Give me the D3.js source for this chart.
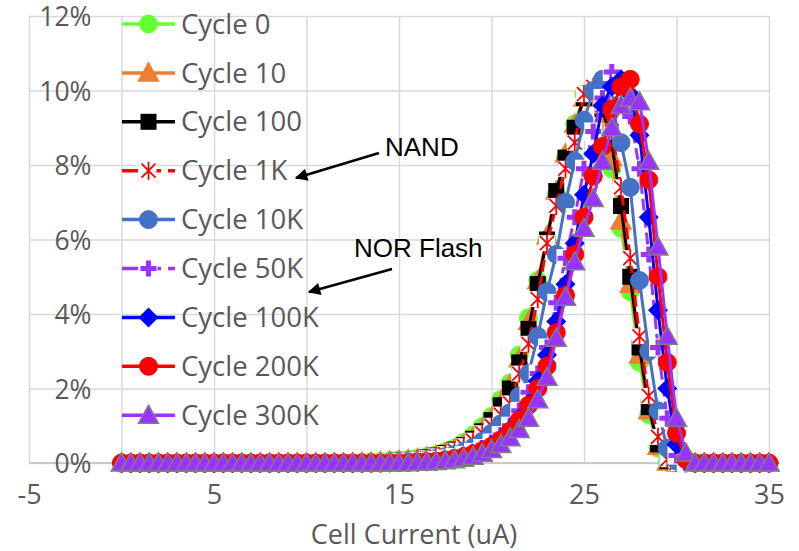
<!DOCTYPE html>
<html><head><meta charset="utf-8">
<script src="https://cdn.jsdelivr.net/npm/d3@7"></script>
<style>
html,body{margin:0;padding:0;background:#fff;}
svg{display:block;}
</style></head>
<body>
<svg id="chart" width="799" height="551"></svg>
<script>
// ---- data ----
const xValues = [0,0.5,1,1.5,2,2.5,3,3.5,4,4.5,5,5.5,6,6.5,7,7.5,8,8.5,9,9.5,10,10.5,11,11.5,12,12.5,
13,13.5,14,14.5,15,15.5,16,16.5,17,17.5,18,18.5,19,19.5,20,20.5,21,21.5,22,22.5,23,23.5,24,24.5,25,25.5,
26,26.5,27,27.5,28,28.5,29,29.5,30,30.5,31,31.5,32,32.5,33,33.5,34,34.5,35];

const seriesNames = ["Cycle 0","Cycle 10","Cycle 100","Cycle 1K","Cycle 10K","Cycle 50K","Cycle 100K","Cycle 200K","Cycle 300K"];

const cycle0 = [0,0,0,0,0,0,0,0,0,0, 0,0,0,0,0,0,0,0,0,0, 0,0,0,0,0,0,
0.02,0.03,0.04,0.06,0.08,0.10,0.13,0.17,0.22,0.30,0.40,0.55,0.75,0.98,1.25,1.7,2.15,2.9,3.9,4.9,6.0,7.2,8.2,9.1,9.9,9.8,9.0,7.9,6.3,4.6,2.7,1.3,0.4,0.04,
0,0,0,0,0,0,0,0,0,0,0];
const cycle10 = [0,0,0,0,0,0,0,0,0,0, 0,0,0,0,0,0,0,0,0,0, 0,0,0,0,0,0,
0.01,0.02,0.03,0.05,0.07,0.09,0.12,0.16,0.21,0.28,0.37,0.5,0.68,0.92,1.2,1.6,2.1,2.8,3.8,4.9,6.1,7.3,8.3,9.1,9.8,9.9,9.2,8.2,6.5,4.8,2.9,1.4,0.45,0.03,
0,0,0,0,0,0,0,0,0,0,0];
const cycle100 = [0,0,0,0,0,0,0,0,0,0, 0,0,0,0,0,0,0,0,0,0, 0,0,0,0,0,0,
0.01,0.02,0.03,0.04,0.06,0.08,0.11,0.15,0.2,0.27,0.36,0.48,0.65,0.85,1.15,1.55,2.0,2.7,3.6,4.8,6.0,7.3,8.2,9.0,9.8,10.0,9.5,8.6,6.9,5.0,3.1,1.5,0.5,0.05,
0,0,0,0,0,0,0,0,0,0,0];
const cycle1K = [0,0,0,0,0,0,0,0,0,0, 0,0,0,0,0,0,0,0,0,0, 0,0,0,0,0,0,
0.01,0.01,0.02,0.03,0.05,0.07,0.1,0.13,0.18,0.24,0.33,0.45,0.6,0.8,1.0,1.3,1.6,2.4,3.2,4.4,5.9,6.9,7.9,8.6,9.9,10.1,9.6,8.9,7.4,5.5,3.4,1.8,0.7,0.1,
0,0,0,0,0,0,0,0,0,0,0];
const cycle10K = [0,0,0,0,0,0,0,0,0,0, 0,0,0,0,0,0,0,0,0,0, 0,0,0,0,0,0,
0,0.01,0.01,0.02,0.03,0.04,0.06,0.09,0.12,0.17,0.23,0.31,0.42,0.58,0.8,1.05,1.35,1.8,2.4,3.4,4.6,5.6,7.0,8.1,9.2,10.0,10.3,9.6,8.6,7.4,4.9,3.0,1.4,0.4,0.05,
0,0,0,0,0,0,0,0,0,0];
const cycle50K = [0,0,0,0,0,0,0,0,0,0, 0,0,0,0,0,0,0,0,0,0, 0,0,0,0,0,0,
0,0,0.01,0.01,0.02,0.03,0.04,0.06,0.08,0.12,0.16,0.22,0.3,0.4,0.55,0.75,1.0,1.4,1.9,2.4,3.1,4.3,5.5,6.6,7.9,8.9,9.8,10.5,10.2,9.3,7.9,5.6,3.1,1.2,0.2,
0,0,0,0,0,0,0,0,0,0];
const cycle100K = [0,0,0,0,0,0,0,0,0,0, 0,0,0,0,0,0,0,0,0,0, 0,0,0,0,0,0,
0,0,0.01,0.01,0.02,0.02,0.03,0.04,0.06,0.09,0.13,0.18,0.25,0.35,0.48,0.65,0.9,1.2,1.6,2.2,2.9,3.8,4.8,5.9,7.2,8.3,9.6,10.1,10.3,9.9,8.8,6.6,4.1,2.0,0.5,0.05,
0,0,0,0,0,0,0,0,0];
const cycle200K = [0,0,0,0,0,0,0,0,0,0, 0,0,0,0,0,0,0,0,0,0, 0,0,0,0,0,0,
0,0,0,0.01,0.01,0.02,0.03,0.04,0.05,0.08,0.12,0.17,0.24,0.33,0.45,0.62,0.85,1.15,1.55,2.0,2.6,3.5,4.5,5.6,6.6,7.7,8.5,9.5,10.1,10.3,9.1,7.6,5.0,2.7,0.8,0.1,
0,0,0,0,0,0,0,0,0];
const cycle300K = [0,0,0,0,0,0,0,0,0,0, 0,0,0,0,0,0,0,0,0,0, 0,0,0,0,0,0,
0,0,0,0.01,0.01,0.01,0.02,0.03,0.04,0.06,0.09,0.13,0.18,0.26,0.36,0.5,0.68,0.9,1.2,1.7,2.3,3.35,4.45,5.4,6.3,7.1,8.1,9.0,9.6,9.8,9.7,8.1,5.8,3.4,1.2,0.27,0,
0,0,0,0,0,0,0,0];

const yTicks = [0,2,4,6,8,10,12];
const xGridTicks = [-5,0,5,10,15,20,25,30,35];
const xLabelTicks = [-5,5,15,25,35];
const xTitle = "Cell Current (uA)";
const notes = [
  {text:"NAND", tx:385, ty:156, x1:379, y1:153, x2:296, y2:178},
  {text:"NOR Flash", tx:354, ty:257, x1:392, y1:269, x2:309, y2:292}
];

// ---- styles ----
const styles = [
  {color:"#66FF33", marker:"circle", dash:null},
  {color:"#ED7D31", marker:"triangle", dash:null},
  {color:"#000000", marker:"square", dash:null},
  {color:"#FF0000", marker:"star", dash:"12,5"},
  {color:"#4472C4", marker:"circle", dash:null},
  {color:"#9933FF", marker:"plus", dash:"12,5"},
  {color:"#0000FF", marker:"diamond", dash:null},
  {color:"#FF0000", marker:"circle", dash:null},
  {color:"#9933FF", marker:"triangle", dash:null, mstroke:"#7F7F7F"}
];
const allSeries = [cycle0,cycle10,cycle100,cycle1K,cycle10K,cycle50K,cycle100K,cycle200K,cycle300K];

const svg = d3.select("#chart");
svg.append("rect").attr("width",799).attr("height",551).attr("fill","#fff");

const x = d3.scaleLinear().domain([-5,35]).range([29,769]);
const y = d3.scaleLinear().domain([0,12]).range([463,16]);

// gridlines
const gy = svg.append("g").attr("transform",`translate(${x(-5)},0)`)
  .call(d3.axisLeft(y).tickValues(yTicks).tickSize(-(x(35)-x(-5))).tickFormat(""));
gy.select(".domain").remove();
gy.selectAll("line").attr("stroke","#D9D9D9").attr("stroke-width",1.5);

const gx = svg.append("g").attr("transform",`translate(0,${y(12)})`)
  .call(d3.axisBottom(x).tickValues(xGridTicks).tickSize(y(0)-y(12)).tickFormat(""));
gx.select(".domain").remove();
gx.selectAll("line").attr("stroke","#D9D9D9").attr("stroke-width",1.5);

// baseline
svg.append("line").attr("x1",x(-5)).attr("x2",x(35)).attr("y1",y(0)).attr("y2",y(0))
  .attr("stroke","#BFBFBF").attr("stroke-width",1.5);

const FONT = "'Open Sans', 'Noto Sans', sans-serif";

// y axis labels
const ya = svg.append("g").attr("transform",`translate(${x(0)},0)`)
  .call(d3.axisLeft(y).tickValues(yTicks).tickSize(0).tickPadding(30).tickFormat(d=>d+"%"));
ya.select(".domain").remove();
ya.selectAll("text").attr("font-family",FONT).attr("font-size",26.5).attr("fill","#595959")
  .attr("dy","0.36em");

// x axis labels
const xa = svg.append("g").attr("transform",`translate(0,${y(0)})`)
  .call(d3.axisBottom(x).tickValues(xLabelTicks).tickSize(0).tickPadding(0).tickFormat(d=>d));
xa.select(".domain").remove();
xa.selectAll("text").attr("font-family",FONT).attr("font-size",27).attr("fill","#595959")
  .attr("y",32).attr("dy","0.35em");

svg.append("text").attr("x",414).attr("y",535).attr("dy","0.35em")
  .attr("text-anchor","middle").attr("font-family",FONT).attr("font-size",27).attr("fill","#595959")
  .text(xTitle);

// marker drawing
function drawMarker(g, st, cx, cy) {
  const m = st.marker, c = st.color;
  if (m==="circle") {
    g.append("circle").attr("cx",cx).attr("cy",cy).attr("r",9).attr("fill",c).attr("stroke",c).attr("stroke-width",1);
  } else if (m==="triangle") {
    g.append("path").attr("d",`M${cx},${cy-10}L${cx+10},${cy+8}L${cx-10},${cy+8}Z`)
      .attr("fill",c).attr("stroke",st.mstroke||c).attr("stroke-width",1.5);
  } else if (m==="square") {
    g.append("rect").attr("x",cx-8).attr("y",cy-8).attr("width",16).attr("height",16).attr("fill",c);
  } else if (m==="diamond") {
    g.append("path").attr("d",`M${cx},${cy-10}L${cx+10},${cy}L${cx},${cy+10}L${cx-10},${cy}Z`).attr("fill",c);
  } else if (m==="star") {
    g.append("rect").attr("x",cx-8).attr("y",cy-8).attr("width",16).attr("height",16).attr("fill","#fff");
    g.append("path").attr("d",`M${cx-7},${cy-7}L${cx+7},${cy+7}M${cx-7},${cy+7}L${cx+7},${cy-7}M${cx},${cy-9}L${cx},${cy+9}`)
      .attr("stroke",c).attr("stroke-width",1.8).attr("fill","none");
  } else if (m==="plus") {
    g.append("rect").attr("x",cx-9).attr("y",cy-9).attr("width",18).attr("height",18).attr("fill","#fff");
    g.append("path").attr("d",`M${cx-8},${cy}L${cx+8},${cy}M${cx},${cy-8}L${cx},${cy+8}`)
      .attr("stroke",c).attr("stroke-width",5).attr("fill","none");
  }
}

const line = d3.line().x((d,i)=>x(xValues[i])).y(d=>y(d));

allSeries.forEach((vals, si) => {
  const st = styles[si];
  const g = svg.append("g");
  g.append("path").datum(vals).attr("d",line).attr("fill","none")
    .attr("stroke",st.color).attr("stroke-width",3)
    .attr("stroke-dasharray",st.dash);
  vals.forEach((v,i)=> drawMarker(g, st, x(xValues[i]), y(v)));
});

// legend
const legY0 = 24, legDy = 48.9;
seriesNames.forEach((name, si) => {
  const st = styles[si];
  const g = svg.append("g");
  const ly = legY0 + si*legDy;
  g.append("line").attr("x1",122).attr("x2",175).attr("y1",ly).attr("y2",ly)
    .attr("stroke",st.color).attr("stroke-width",3.5).attr("stroke-dasharray",st.dash?"16,7":null);
  drawMarker(g, st, 148.5, ly);
  g.append("text").attr("x",181).attr("y",ly).attr("dy","0.35em")
    .attr("font-family",FONT).attr("font-size",27.5).attr("fill","#595959").text(name);
});

// annotations
const defs = svg.append("defs");
defs.append("marker").attr("id","arrow").attr("viewBox","0 0 10 10").attr("refX",9).attr("refY",5)
  .attr("markerWidth",6).attr("markerHeight",5).attr("orient","auto")
  .attr("markerUnits","strokeWidth")
  .append("path").attr("d","M0,0L10,5L0,10Z").attr("fill","#000");
notes.forEach(n => {
  svg.append("line").attr("x1",n.x1).attr("y1",n.y1).attr("x2",n.x2).attr("y2",n.y2)
    .attr("stroke","#000").attr("stroke-width",2.5).attr("marker-end","url(#arrow)");
  svg.append("text").attr("x",n.tx).attr("y",n.ty).attr("font-family","'Liberation Sans', Arial, sans-serif")
    .attr("font-size",26).attr("fill","#000").text(n.text);
});
</script>
</body></html>
